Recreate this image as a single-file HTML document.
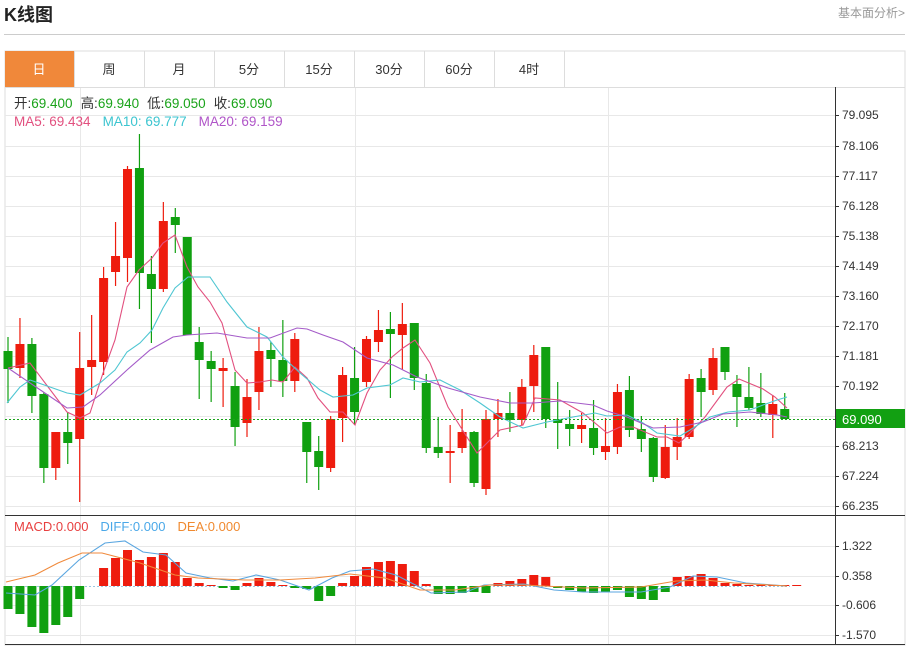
<!DOCTYPE html>
<html><head><meta charset="utf-8">
<style>
body{margin:0;background:#fff;width:909px;height:646px;overflow:hidden;font-family:"Liberation Sans","Noto Sans CJK SC",sans-serif;}
svg text{font-family:"Liberation Sans","Noto Sans CJK SC",sans-serif;}
</style></head><body>
<svg id="s" width="909" height="646" xmlns="http://www.w3.org/2000/svg">
<text x="4" y="21" font-size="18" font-weight="bold" fill="#222">K线图</text>
<text x="905" y="17" font-size="12" fill="#999" text-anchor="end">基本面分析&gt;</text>
<line x1="4" y1="34.5" x2="905" y2="34.5" stroke="#ccc"/>
<rect x="5" y="51" width="900" height="594" fill="none" stroke="#ddd"/>
<line x1="5" y1="87.5" x2="905" y2="87.5" stroke="#ddd"/>
<rect x="5" y="51" width="69" height="36" fill="#f0883a"/>
<g font-size="13" fill="#333" text-anchor="middle">
<text x="39" y="74" fill="#fff">日</text>
<text x="109" y="74">周</text><text x="179" y="74">月</text><text x="249" y="74">5分</text>
<text x="319" y="74">15分</text><text x="389" y="74">30分</text><text x="459" y="74">60分</text><text x="529" y="74">4时</text>
</g>
<g stroke="#ddd"><line x1="74.5" y1="51" x2="74.5" y2="87"/><line x1="144.5" y1="51" x2="144.5" y2="87"/><line x1="214.5" y1="51" x2="214.5" y2="87"/><line x1="284.5" y1="51" x2="284.5" y2="87"/><line x1="354.5" y1="51" x2="354.5" y2="87"/><line x1="424.5" y1="51" x2="424.5" y2="87"/><line x1="494.5" y1="51" x2="494.5" y2="87"/><line x1="564.5" y1="51" x2="564.5" y2="87"/></g>
<g id="grid"></g>
<g id="plot"></g>
<line x1="835.5" y1="87" x2="835.5" y2="645" stroke="#333"/>
<line x1="5" y1="515.5" x2="905" y2="515.5" stroke="#333"/>
<line x1="5" y1="644.5" x2="905" y2="644.5" stroke="#333"/>
<line x1="5" y1="419.5" x2="835" y2="419.5" stroke="#1aa31a" stroke-dasharray="2,2"/>
<rect x="836" y="409" width="69" height="19" fill="#12a012"/>
<text x="842" y="424" font-size="13" fill="#fff">69.090</text>
<g font-size="13.5">
<text x="14" y="108"><tspan fill="#333">开:</tspan><tspan fill="#1aa31a">69.400</tspan><tspan fill="#333" dx="8">高:</tspan><tspan fill="#1aa31a">69.940</tspan><tspan fill="#333" dx="8">低:</tspan><tspan fill="#1aa31a">69.050</tspan><tspan fill="#333" dx="8">收:</tspan><tspan fill="#1aa31a">69.090</tspan></text>
<text x="14" y="126"><tspan fill="#e2507f">MA5: 69.434</tspan><tspan fill="#3cc5d0" dx="12">MA10: 69.777</tspan><tspan fill="#b055c8" dx="12">MA20: 69.159</tspan></text>
</g>
<text x="14" y="531" font-size="13"><tspan fill="#e84040">MACD:0.000</tspan><tspan fill="#4aa8e8" dx="12">DIFF:0.000</tspan><tspan fill="#f08a30" dx="12">DEA:0.000</tspan></text>
</svg>
<script>
var NS="http://www.w3.org/2000/svg";
function el(p,t,a){var e=document.createElementNS(NS,t);for(var k in a)e.setAttribute(k,a[k]);p.appendChild(e);return e;}
var g=document.getElementById('grid'),P=document.getElementById('plot'),S=document.getElementById('s');
var pl=[["79.095",115],["78.106",146],["77.117",176],["76.128",206],["75.138",236],["74.149",266],["73.160",296],["72.170",326],["71.181",356],["70.192",386],["68.213",446],["67.224",476],["66.235",506]];
var ml=[["1.322",546],["0.358",576],["-0.606",605],["-1.570",635]];
pl.concat(ml).forEach(function(a){el(g,'line',{x1:5,x2:835,y1:a[1]+.5,y2:a[1]+.5,stroke:'#e8e8e8'});el(g,'line',{x1:835,x2:839,y1:a[1]+.5,y2:a[1]+.5,stroke:'#333'});var t=el(S,'text',{x:842,y:a[1]+4,'font-size':12,fill:'#333'});t.textContent=a[0];});
el(g,'line',{x1:5,x2:835,y1:416.5,y2:416.5,stroke:'#e8e8e8'});
[80,355,608].forEach(function(x){el(g,'line',{x1:x+.5,x2:x+.5,y1:88,y2:645,stroke:'#e8e8e8'});});
var C=[[351,369,337,403,0],[344,368,318,378,1],[344,396,338,413,0],[394,468,392,483,0],[432,468,432,480,1],[432,443,412,464,0],[368,439,332,502,1],[360,367,315,395,1],[278,362,267,375,1],[256,272,222,286,1],[169,258,166,282,1],[168,273,134,309,0],[274,289,256,343,0],[221,289,202,292,1],[217,225,208,253,0],[237,335,237,335,0],[342,360,327,399,0],[361,369,351,402,0],[368,371,358,407,1],[386,427,372,446,0],[397,423,379,437,1],[351,392,327,410,1],[350,359,342,387,0],[360,381,320,397,0],[339,381,333,392,1],[422,452,422,483,0],[451,467,436,490,0],[419,468,416,472,1],[375,418,367,442,1],[378,412,347,425,0],[339,382,336,387,1],[330,342,310,352,1],[329,334,312,398,0],[324,335,303,370,1],[323,378,323,390,0],[383,448,374,453,0],[447,453,417,458,0],[451,453,425,483,1],[432,448,409,453,1],[432,483,431,487,0],[419,489,410,495,1],[413,419,399,437,1],[413,420,392,432,0],[387,420,379,425,1],[355,386,345,412,1],[347,419,347,428,0],[419,423,382,449,0],[424,429,410,446,0],[425,429,413,443,1],[428,448,400,455,0],[446,452,418,460,1],[392,447,384,454,1],[390,430,376,437,0],[429,439,416,452,0],[438,477,437,482,0],[447,478,425,479,1],[437,447,418,460,1],[379,437,374,439,1],[378,392,369,417,0],[358,390,348,395,1],[347,372,347,380,0],[384,397,375,427,0],[397,408,367,410,0],[403,414,373,417,0],[404,415,395,438,1],[409,419,393,419,0]];
function X(i){return 8+i*11.95;}
C.forEach(function(c,i){var x=X(i),col=c[4]?'#ee1c0e':'#10a010';el(P,'line',{x1:x,x2:x,y1:c[2],y2:c[3],stroke:col,'stroke-width':1.2});el(P,'rect',{x:x-4.5,y:c[0],width:9,height:Math.max(2,c[1]-c[0]),fill:col});});
function line(pts,col){el(P,'polyline',{points:pts,fill:'none',stroke:col,'stroke-width':1.1});}
line("8,368 30,363 67,412 80,418 90,413 103,373 115,340 127,287 139,270 152,258 163,243 175,235 187,267 198,287 210,302 222,323 235,370 247,383 260,382 272,380 283,382 295,367 307,378 318,398 330,412 343,412 355,425 367,393 380,370 392,357 403,348 415,340 430,363 448,407 477,453 500,430 523,425 535,398 560,400 583,413 607,433 620,427 633,427 657,437 667,437 679,443 690,433 705,417 727,387 739,379 763,389 775,397 787,408","#e2507f");
line("7,403 20,387 30,380 50,387 67,393 80,395 100,383 115,370 127,352 140,343 152,330 163,308 175,288 188,277 210,277 227,302 247,327 267,337 283,357 300,373 320,390 333,397 353,395 367,388 390,385 403,378 420,382 440,380 460,390 480,403 500,417 523,428 547,422 573,417 595,413 607,416 627,415 643,423 657,433 680,436 690,430 710,417 728,412 750,410 763,405 777,400 787,397","#4fc6d2");
line("8,368 33,385 67,408 83,407 100,395 127,370 150,350 173,337 187,335 217,333 247,338 270,338 297,328 307,329 323,335 343,342 367,358 393,365 417,377 448,388 480,397 510,403 533,403 560,401 593,405 607,411 627,417 653,428 680,427 703,422 723,414 750,412 777,415 787,417","#a45bc8");
el(P,'line',{x1:5,x2:790,y1:586.5,y2:586.5,stroke:'#9cc7e0','stroke-dasharray':'2,2'});
var M=[609,614,627,633,625,617,599,586,568,558,550,560,557,553,562,578,583,585,588,590,583,578,582,585,588,589,601,596,583,576,567,562,561,564,571,584,594,594,593,592,593,583,581,579,575,577,588,590,592,593,592,590,597,599,600,592,577,576,574,578,583,584,585,585,585,585,585];
M.forEach(function(y,i){var x=X(i);if(Math.abs(y-586)<1)return;var t=Math.min(y,586),h=Math.abs(y-586);el(P,'rect',{x:x-4.5,y:t,width:9,height:h,fill:y<586?'#ee1c0e':'#10a010'});});
line("6,593 35,595 52,585 79,560 105,543 125,541 143,552 166,555 186,573 210,578 233,581 256,575 280,580 309,590 332,578 350,571 373,569 396,575 431,593 466,592 484,585 524,584 554,590 583,592 641,592 670,587 693,576 717,577 746,583 787,586","#5aa6e0");
line("6,582 35,575 58,563 82,553 102,553 140,563 175,575 198,578 245,580 280,580 315,578 350,574 385,578 420,590 455,590 490,585 524,585 583,588 641,587 676,581 705,580 734,583 787,586","#f08a3c");
</script>
</body></html>
